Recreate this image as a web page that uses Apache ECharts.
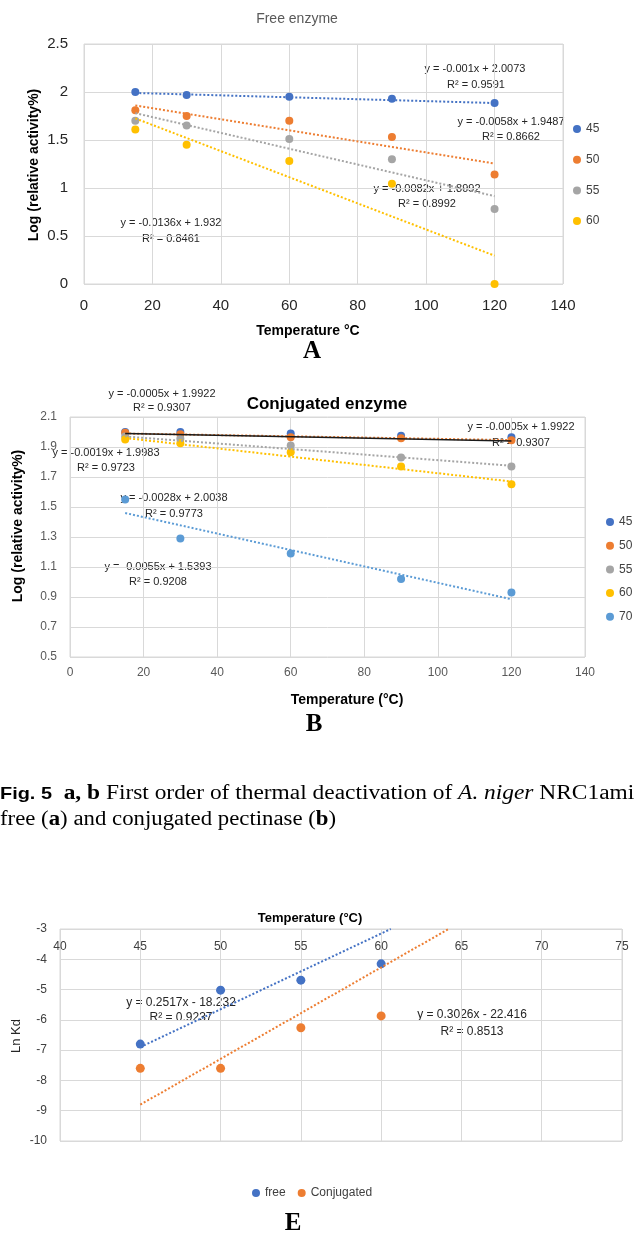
<!DOCTYPE html>
<html lang="en">
<head>
<meta charset="UTF-8">
<title>Thermal deactivation of free and conjugated pectinase</title>
<script src="https://cdn.jsdelivr.net/npm/echarts@6/dist/echarts.min.js"></script>
<style>
  body { margin: 0; background: #fff; }
  #main { width: 636px; height: 1235px; }
</style>
</head>
<body>
<div id="main"></div>
<script>
// ---- data ----
// A / B share the same x values (labelled "Temperature" in the figure)
const timesAB = [15, 30, 60, 90, 120];
const trendX = [15, 120];

// A: free enzyme, log(relative activity %)
const free45 = [2.00, 1.97, 1.95, 1.93, 1.885];
const free50 = [1.81, 1.75, 1.70, 1.53, 1.14];
const free55 = [1.70, 1.65, 1.51, 1.30, 0.78];
const free60 = [1.61, 1.45, 1.28, 1.045, 0.00];
// trendline ends (at x = 15 and x = 120)
const freeTrend45 = [1.99, 1.885];
const freeTrend50 = [1.86, 1.255];
const freeTrend55 = [1.78, 0.915];
const freeTrend60 = [1.725, 0.295];

// B: conjugated enzyme
const conj45 = [2.00, 2.00, 1.99, 1.975, 1.965];
const conj50 = [1.995, 1.985, 1.965, 1.958, 1.945];
const conj55 = [1.97, 1.955, 1.91, 1.83, 1.77];
const conj60 = [1.95, 1.925, 1.865, 1.77, 1.652];
const conj70 = [1.55, 1.29, 1.19, 1.02, 0.93];
const conjTrend45 = [1.99, 1.94];
const conjTrend50 = [1.99, 1.946];
const conjTrend55 = [1.97, 1.775];
const conjTrend60 = [1.96, 1.67];
const conjTrend70 = [1.46, 0.885];

// E: Ln Kd vs temperature
const tempsE = [45, 50, 55, 60];
const lnKdFree = [-6.80, -5.02, -4.69, -4.15];
const lnKdConj = [-7.60, -7.60, -6.26, -5.87];
const trendFreeX = [45, 60.6];
const trendFreeY = [-6.9, -3.0];
const trendConjX = [45, 64.2];
const trendConjY = [-8.8, -3.0];

const seriesNamesA = ['45', '50', '55', '60'];
const seriesNamesB = ['45', '50', '55', '60', '70'];
const seriesNamesE = ['free', 'Conjugated'];

// ---- styling ----
const FONT = 'Liberation Sans, Arial, sans-serif';
const SERIF = 'Liberation Serif, Times New Roman, serif';
const GRID_LINE = '#d9d9d9';
const colors = {
    '45': '#4472C4', '50': '#ED7D31', '55': '#A5A5A5', '60': '#FFC000', '70': '#5B9BD5',
    'free': '#4472C4', 'Conjugated': '#ED7D31'
};

function pts(xs, ys) {
    return xs.map(function (x, i) { return [x, ys[i]]; });
}

const series = [];
function addScatter(name, gi, xs, ys, size) {
    series.push({
        type: 'scatter', name: name, xAxisIndex: gi, yAxisIndex: gi,
        data: pts(xs, ys), symbolSize: size, z: 2,
        itemStyle: { color: colors[name], opacity: 1 }
    });
}
function addTrend(name, gi, xs, ys, style) {
    series.push({
        type: 'line', name: name + ' trend', xAxisIndex: gi, yAxisIndex: gi,
        data: pts(xs, ys), symbol: 'none', silent: true, z: 3,
        lineStyle: Object.assign({ color: colors[name], width: 2, type: [2, 2] }, style || {})
    });
}

// A
addScatter('45', 0, timesAB, free45, 8);
addScatter('50', 0, timesAB, free50, 8);
addScatter('55', 0, timesAB, free55, 8);
addScatter('60', 0, timesAB, free60, 8);
addTrend('45', 0, trendX, freeTrend45);
addTrend('50', 0, trendX, freeTrend50);
addTrend('55', 0, trendX, freeTrend55);
addTrend('60', 0, trendX, freeTrend60);

// B
addScatter('45', 1, timesAB, conj45, 8);
addScatter('50', 1, timesAB, conj50, 8);
addScatter('55', 1, timesAB, conj55, 8);
addScatter('60', 1, timesAB, conj60, 8);
addScatter('70', 1, timesAB, conj70, 8);
addTrend('50', 1, trendX, conjTrend50);
addTrend('55', 1, trendX, conjTrend55);
addTrend('60', 1, trendX, conjTrend60);
addTrend('70', 1, trendX, conjTrend70);
addTrend('45', 1, trendX, conjTrend45, { color: '#1a1a1a', width: 1.3, type: 'solid' });

// E
addScatter('free', 2, tempsE, lnKdFree, 9);
addScatter('Conjugated', 2, tempsE, lnKdConj, 9);
addTrend('free', 2, trendFreeX, trendFreeY);
addTrend('Conjugated', 2, trendConjX, trendConjY);

function axis(gi, min, max, step, label, extra) {
    return Object.assign({
        type: 'value', gridIndex: gi, min: min, max: max, interval: step,
        axisLine: { show: false }, axisTick: { show: false },
        splitLine: { show: true, lineStyle: { color: GRID_LINE, width: 1 } },
        axisLabel: Object.assign({ fontFamily: FONT, showMinLabel: true, showMaxLabel: true }, label)
    }, extra || {});
}

function txt(x, y, str, style, extra) {
    return Object.assign({
        type: 'text', x: x, y: y, silent: true,
        style: Object.assign({
            text: str, fontSize: 11, fontFamily: FONT, fill: '#262626',
            align: 'center', verticalAlign: 'middle'
        }, style || {})
    }, extra || {});
}

const eq = { fontSize: 11, fill: '#262626' };
const eqE = { fontSize: 12, fill: '#262626' };
const axisTitle = { fontSize: 14, fontWeight: 'bold', fill: '#000' };
const panelLetter = { fontSize: 25, fontWeight: 'bold', fontFamily: SERIF, fill: '#000' };
const capRich = {
    f: { fontFamily: FONT, fontWeight: 'bold', fontSize: 17, fill: '#000' },
    b: { fontFamily: SERIF, fontWeight: 'bold', fontSize: 20, fill: '#000' },
    i: { fontFamily: SERIF, fontStyle: 'italic', fontSize: 20, fill: '#000' }
};

const graphics = [
    // A
    txt(297, 19, 'Free enzyme', { fontSize: 14, fill: '#595959' }),
    txt(34, 165, 'Log (relative activity%)', axisTitle, { rotation: Math.PI / 2 }),
    txt(308, 331, 'Temperature °C', axisTitle),
    txt(312, 352, 'A', panelLetter),
    txt(475, 69, 'y = -0.001x + 2.0073', eq),
    txt(476, 85, 'R² = 0.9591', eq),
    txt(511, 122, 'y = -0.0058x + 1.9487', eq),
    txt(511, 137, 'R² = 0.8662', eq),
    txt(427, 189, 'y = -0.0082x + 1.8992', eq),
    txt(427, 204, 'R² = 0.8992', eq),
    txt(171, 223, 'y = -0.0136x + 1.932', eq),
    txt(171, 239, 'R² = 0.8461', eq),
    // B
    txt(327, 404, 'Conjugated enzyme', { fontSize: 17, fontWeight: 'bold', fill: '#000' }),
    txt(18, 526, 'Log (relative activity%)', axisTitle, { rotation: Math.PI / 2 }),
    txt(347, 700, 'Temperature (°C)', axisTitle),
    txt(314, 725, 'B', panelLetter),
    txt(162, 394, 'y = -0.0005x + 1.9922', eq),
    txt(162, 408, 'R² = 0.9307', eq),
    txt(521, 427, 'y = -0.0005x + 1.9922', eq),
    txt(521, 443, 'R² = 0.9307', eq),
    txt(106, 453, 'y = -0.0019x + 1.9983', eq),
    txt(106, 468, 'R² = 0.9723', eq),
    txt(174, 498, 'y = -0.0028x + 2.0038', eq),
    txt(174, 514, 'R² = 0.9773', eq),
    txt(158, 567, 'y = -0.0055x + 1.5393', eq),
    txt(158, 582, 'R² = 0.9208', eq),
    // caption
    txt(0, 794, '{f|Fig. 5}  {b|a, b} First order of thermal deactivation of {i|A. niger} NRC1ami',
        { fontSize: 20, fontFamily: SERIF, fill: '#000', align: 'left', rich: capRich }, { scaleX: 1.17 }),
    txt(0, 820, 'free ({b|a}) and conjugated pectinase ({b|b})',
        { fontSize: 20, fontFamily: SERIF, fill: '#000', align: 'left', rich: capRich }, { scaleX: 1.14 }),
    // E
    txt(310, 918, 'Temperature (°C)', { fontSize: 13, fontWeight: 'bold', fill: '#000' }),
    txt(16, 1036, 'Ln Kd', { fontSize: 13, fill: '#262626' }, { rotation: Math.PI / 2 }),
    txt(293, 1224, 'E', panelLetter),
    txt(181, 1003, 'y = 0.2517x - 18.232', eqE),
    txt(181, 1018, 'R² = 0.9237', eqE),
    txt(472, 1015, 'y = 0.3026x - 22.416', eqE),
    txt(472, 1032, 'R² = 0.8513', eqE)
];

const gridBase = { show: true, borderColor: GRID_LINE, borderWidth: 1, containLabel: false };
const legendBase = {
    icon: 'circle', itemWidth: 8, itemHeight: 8, padding: 0,
    textStyle: { fontFamily: FONT, fontSize: 12, color: '#404040' }
};

const option = {
    animation: false,
    backgroundColor: '#fff',
    textStyle: { fontFamily: FONT },
    grid: [
        Object.assign({ left: 84, top: 44, width: 479, height: 240 }, gridBase),
        Object.assign({ left: 70, top: 417, width: 515, height: 240 }, gridBase),
        Object.assign({ left: 60, top: 929, width: 562, height: 212 }, gridBase)
    ],
    xAxis: [
        axis(0, 0, 140, 20, { fontSize: 15, color: '#262626', margin: 14 }),
        axis(1, 0, 140, 20, { fontSize: 12, color: '#595959', margin: 10 }),
        axis(2, 40, 75, 5, { fontSize: 12, color: '#404040', margin: 12, inside: true }, { position: 'top' })
    ],
    yAxis: [
        axis(0, 0, 2.5, 0.5, { fontSize: 15, color: '#262626', margin: 16 }),
        axis(1, 0.5, 2.1, 0.2, { fontSize: 12, color: '#595959', margin: 13 }),
        axis(2, -10, -3, 1, { fontSize: 12, color: '#404040', margin: 13 })
    ],
    legend: [
        Object.assign({ orient: 'vertical', left: 573, top: 123, itemGap: 18.7, data: seriesNamesA }, legendBase),
        Object.assign({ orient: 'vertical', left: 606, top: 516, itemGap: 11.7, data: seriesNamesB }, legendBase),
        Object.assign({ orient: 'horizontal', left: 252, top: 1187, itemGap: 12, data: seriesNamesE }, legendBase)
    ],
    graphic: graphics,
    series: series
};

var chart = echarts.init(document.getElementById('main'));
chart.setOption(option);
</script>
</body>
</html>
